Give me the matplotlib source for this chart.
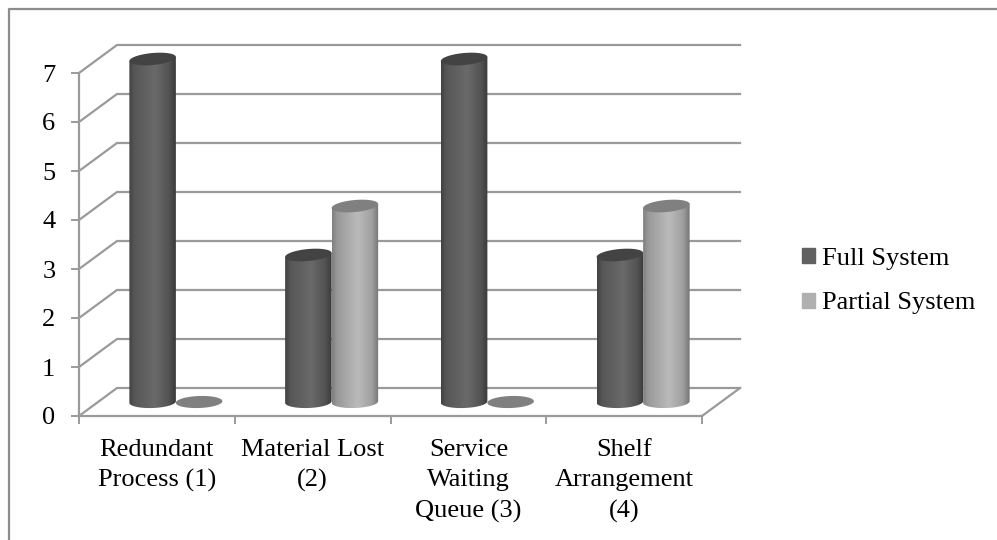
import numpy as np
from matplotlib import pyplot as plt
from matplotlib.patches import Patch, PathPatch, Polygon
from matplotlib.path import Path

categories = ["Redundant\nProcess (1)", "Material Lost\n(2)", "Service\nWaiting\nQueue (3)", "Shelf\nArrangement\n(4)"]
full_system = [7, 3, 7, 3]
partial_system = [0, 4, 0, 4]
y_ticks = [0, 1, 2, 3, 4, 5, 6, 7]

plt.rcParams['font.family'] = ['Liberation Serif']

W, H = 997, 540
fig = plt.figure(figsize=(W / 100, H / 100), dpi=100)
# axes box = front edge of the floor, in pixels
ax = fig.add_axes([79 / W, (H - 416) / H, (702 - 79) / W, (416 - 73) / H])
ax.set_xlim(0, 4)
ax.set_ylim(0, 7)

px_x = 4 / (702 - 79)
px_y = 7 / (416 - 73)

grid_c = '#9a9a9a'
depth_x, depth_y = 38 * px_x, 28 * px_y

# back wall lines and the slanted ones on the left
for v in y_ticks:
    ax.plot([0, depth_x, 4 + depth_x], [v, v + depth_y, v + depth_y], color=grid_c, lw=1.6,
            clip_on=False, zorder=1, solid_joinstyle='miter')
# floor
ax.plot([4, 4 + depth_x], [0, depth_y], color=grid_c, lw=1.6, clip_on=False, zorder=1)
ax.plot([0, 4], [0, 0], color=grid_c, lw=1.6, clip_on=False, zorder=1)

# cylinder settings
bar_w = 46.5 * px_x
rx = bar_w / 2
ry = 6 * px_y
tilt = 2 * px_y
flat_tilt = 0.8 * px_y
base = 14 * px_y
shift = 19 * px_x
t = np.linspace(0, 2 * np.pi, 121)


def ell(cx, cy, k):
    return np.column_stack([cx + rx * np.cos(t), cy + ry * np.sin(t) + k * np.cos(t)])


def cylinder(cx, value, shades, top_c):
    y0 = base
    y1 = base + value
    if value > 0:
        low = t[60:121]  # lower half of the bottom ellipse, left to right
        xs = cx + rx * np.cos(low)
        ys = y0 + ry * np.sin(low) + flat_tilt * np.cos(low)
        up = t[0:61]  # then back along the top, right to left
        xu = cx + rx * np.cos(up)
        yu = y1 + tilt * np.cos(up)
        verts = np.column_stack([np.r_[xs, xu], np.r_[ys, yu]])
        clip = PathPatch(Path(np.vstack([verts, verts[0]])), transform=ax.transData, fc='none', ec='none')
        ax.add_patch(clip)
        grad = np.interp(np.linspace(0, 1, 64), [0, 0.1, 0.55, 0.85, 1], shades)
        im = ax.imshow(grad[None, :], extent=[cx - rx, cx + rx, y0 - 2 * ry, y1 + ry], aspect='auto',
                       cmap='gray', vmin=0, vmax=255, zorder=3, interpolation='bilinear')
        im.set_clip_path(clip)
        im.set_clip_box(fig.bbox)  # top of the tallest bars sits above the axes box
    k = tilt if value > 0 else flat_tilt
    ax.add_patch(Polygon(ell(cx, y1, k), closed=True, fc=top_c, ec='none', clip_on=False, zorder=4))


for i in range(len(categories)):
    cx0 = i + 0.5 + shift
    cylinder(cx0 - rx, full_system[i], [66, 86, 106, 84, 60], '#434343')
    cylinder(cx0 + rx, partial_system[i], [128, 152, 186, 160, 118], '#808080')

ax.set_xlim(0, 4)
ax.set_ylim(0, 7)

for s in ax.spines.values():
    s.set_visible(False)
ax.spines['left'].set_visible(True)
ax.spines['left'].set_color(grid_c)
ax.spines['left'].set_linewidth(1.6)
ax.patch.set_alpha(0)

ax.set_yticks(y_ticks)
ax.set_xticks(range(5))
ax.set_xticklabels([])
ax.set_xticks(np.arange(len(categories)) + 0.5, categories, minor=True)
ax.tick_params(axis='y', length=6, width=1.4, color=grid_c, labelsize=19, pad=11, labelcolor='black')
ax.tick_params(axis='x', which='major', length=6, width=1.4, color=grid_c)
ax.tick_params(axis='x', which='minor', length=0, labelsize=19, pad=16.5, labelcolor='black')
for lab in ax.get_xminorticklabels():
    lab.set_linespacing(1.48)

handles = [Patch(color='#606060', label='Full System'), Patch(color='#b0b0b0', label='Partial System')]
fig.legend(handles=handles, loc='upper left', bbox_to_anchor=(802 / W, 1 - 248 / H), frameon=False, fontsize=19,
           handlelength=0.5, handleheight=0.5, handletextpad=0.25, labelspacing=0.85, borderpad=0, borderaxespad=0)

# picture frame: left and top only, the right side is cut off
fig.add_artist(plt.Line2D([9 / W, 9 / W, 1], [0, 1 - 9 / H, 1 - 9 / H], color='#8c8c8c', lw=1.6))

fig.savefig("out.png", dpi=100)
